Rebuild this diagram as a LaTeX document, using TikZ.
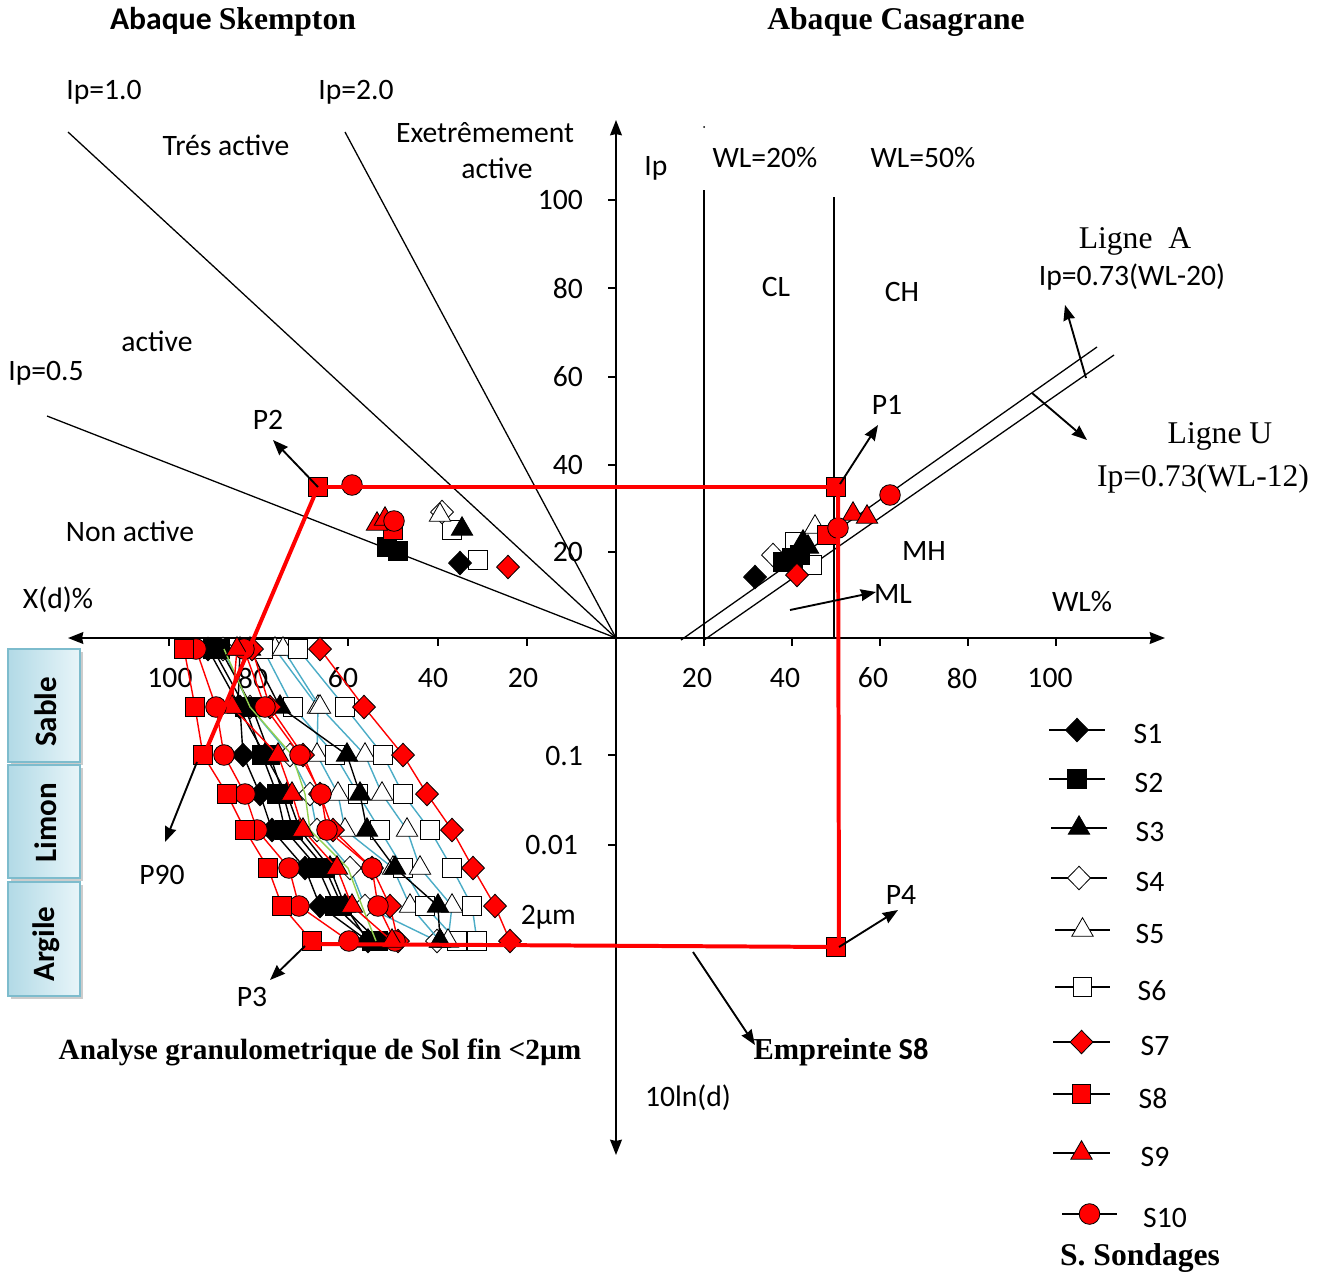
\documentclass[tikz,border=0pt]{standalone}
\usepackage{fontspec}
\setmainfont{Carlito}
\newfontfamily\tnr{Liberation Serif}
\usetikzlibrary{arrows.meta, plotmarks}
\tikzset{>={Stealth[length=13pt, width=10pt, inset=1pt]}}
\definecolor{bleu}{RGB}{75,172,198}
\definecolor{vert}{RGB}{146,208,80}
\definecolor{boxA}{RGB}{178,218,230}
\definecolor{boxB}{RGB}{232,245,249}
\definecolor{boxC}{RGB}{125,188,205}
\tikzset{
  dia/.style={mark=diamond*, mark size=10pt, mark options={xscale=1.3, solid, line width=0.7pt, draw=black, fill=#1}},
  sqr/.style={mark=square*, mark size=8pt, mark options={solid, line width=0.7pt, draw=black, fill=#1}},
  tri/.style={mark=triangle*, mark size=10.5pt, mark options={solid, line width=0.7pt, draw=black, fill=#1}},
  cir/.style={mark=*, mark size=8.8pt, mark options={solid, line width=0.7pt, draw=black, fill=#1}},
  serie/.style={#1, line width=1.2pt},
  fleche/.style={->, line width=1.6pt},
  rouge/.style={red, line width=3.4pt},
  boite/.style={draw=boxC, line width=1.5pt, left color=boxA, right color=boxB}
}
\newcommand{\legende}[6]{% x gauche, x droite, y, marque, texte, x texte
  \draw[line width=1.2pt] (#1,#3) -- (#2,#3);
  \path plot[only marks, #4] coordinates {({(#1+#2)/2},#3)};
  \node (leg#5) at (#6,#3+4) {#5};}

\begin{document}
\begin{tikzpicture}[x=0.03cm, y=-0.03cm, font=\fontsize{25.3}{29}\selectfont]
\useasboundingbox (0,0) rectangle (1323,1278);

% titres
\node (tSk) at (233,22) {\fontsize{27}{30}\selectfont\bfseries Abaque {\tnr Skempton}};
\node (tCa) at (896,22) {\fontsize{27}{30}\selectfont\tnr\bfseries Abaque Casagrane};

% axes
\coordinate (O) at (616,638);
\coordinate (xg) at (68,638);
\coordinate (xd) at (1165,638);
\coordinate (yh) at (616,120);
\coordinate (yb) at (616,1155);
\draw[line width=1.8pt, <->] (xg) -- (xd);
\draw[line width=1.8pt, <->] (yh) -- (yb);
\foreach \x in {169,259,348,438,527,704,792,880,968,1056}
  \draw[line width=1.5pt] (\x,638) -- (\x,646);
\foreach \y in {200,288,377,465,552,755,845}
  \draw[line width=1.5pt] (608,\y) -- (616,\y);
\foreach \t/\x in {100/170,80/253,60/343,40/433,20/523,20/697,40/785,60/873,80/962,100/1050}
  \node at (\x,678) {\t};
\foreach \t/\y in {100/200,80/288,60/377,40/465,20/552,0.1/756}
  \node[anchor=east] at (587,\y) {\t};
\node[anchor=east] (t001) at (582,845) {0.01};
\node[anchor=east] (t2) at (580,917) {2µm};
\node (xdl) at (58,600) {X(d)\%};
\node (wll) at (1082,602) {WL\%};
\node (ipl) at (656,168) {Ip};
\node (lnd) at (688,1098) {10ln(d)};

% abaque de Skempton
\draw[line width=1.1pt] (O) -- (68,132);
\draw[line width=1.1pt] (O) -- (345,132);
\draw[line width=1.1pt] (O) -- (47,416);
\node (ip1) at (104,92) {Ip=1.0};
\node (ip2) at (356,92) {Ip=2.0};
\node (ip05) at (46,373) {Ip=0.5};
\node (tres) at (226,145) {Trés active};
\node (ext) at (485,133) {Exetrêmement};
\node (ext2) at (497,168) {active};
\node (act) at (157,341) {active};
\node (non) at (130,531) {Non active};

% abaque de Casagrande
\fill (704,127) circle (1);
\draw[line width=1.3pt] (704,190) -- (704,638);
\draw[line width=1.3pt] (834,197) -- (834,638);
\draw[line width=1.1pt] (681,640) -- (1097,347);
\draw[line width=1.1pt] (704,640) -- (1114,355);
\node (wl20) at (765,158) {WL=20\%};
\node (wl50) at (923,158) {WL=50\%};
\node (cl) at (776,287) {CL};
\node (ch) at (902,292) {CH};
\node (mh) at (924,551) {MH};
\node (ml) at (893,594) {ML};
\node (lA) at (1135,241) {\fontsize{27}{30}\selectfont\tnr Ligne~~A};
\node (eqA) at (1132,277) {Ip=0.73(WL-20)};
\node (lU) at (1220,436) {\fontsize{27}{30}\selectfont\tnr Ligne U};
\node (eqU) at (1203,479) {\fontsize{27}{30}\selectfont\tnr Ip=0.73(WL-12)};

% granulometrie
\draw[serie=bleu] plot[dia=white] coordinates {(223,649) (250,707) (290,755) (310,794) (317,830) (350,868) (365,906) (437,941)};
\draw[serie=bleu] plot[tri=white] coordinates {(275,649) (318,707) (317,755) (338,794) (345,830) (393,868) (410,906) (440,941)};
\draw[serie=bleu] plot[sqr=white] coordinates {(263,649) (293,707) (335,755) (358,794) (380,830) (403,868) (425,906) (457,941)};
\draw[serie=bleu] plot[tri=white] coordinates {(283,649) (320,707) (365,755) (382,794) (407,830) (420,868) (452,906) (448,941)};
\draw[serie=bleu] plot[sqr=white] coordinates {(298,649) (345,707) (383,755) (403,794) (430,830) (452,868) (472,906) (477,941)};
\draw[serie=black] plot[tri=black] coordinates {(250,649) (280,707) (347,755) (360,794) (367,830) (395,868) (438,906) (440,941)};
\draw[serie=black] plot[dia=black] coordinates {(208,649) (240,707) (243,755) (260,794) (272,830) (305,868) (320,906) (368,941)};
\draw[serie=black] plot[sqr=black] coordinates {(213,649) (245,707) (262,755) (277,794) (285,830) (318,868) (335,906) (372,941)};
\draw[serie=black] plot[sqr=black] coordinates {(220,649) (252,707) (270,755) (283,794) (293,830) (325,868) (342,906) (378,941)};
\draw[serie=black] plot[tri=black] coordinates {(240,649) (238,707) (265,755) (287,794) (300,830) (330,868) (345,906) (368,941)};
\draw[serie=vert] plot coordinates {(224,649) (250,707) (292,755) (305,794) (310,830) (348,868) (362,906) (376,941)};
\draw[serie=red] plot[dia=red] coordinates {(320,649) (364,707) (403,755) (427,794) (452,830) (473,868) (495,906) (510,941)};
\draw[serie=red] plot[dia=red] coordinates {(252,649) (270,707) (303,755) (320,794) (333,830) (372,868) (390,906) (398,941)};
\draw[serie=red] plot[cir=red] coordinates {(244,649) (265,707) (300,755) (321,794) (327,830) (372,868) (378,906) (395,941)};
\draw[serie=red] plot[tri=red] coordinates {(237,649) (232,707) (278,755) (292,794) (303,830) (337,868) (352,906) (392,941)};
\draw[serie=red] plot[cir=red] coordinates {(196,649) (216,707) (224,755) (245,794) (257,830) (289,868) (299,906) (349,941)};
\draw[serie=red] plot[sqr=red] coordinates {(184,649) (195,707) (203,755) (227,794) (245,830) (268,868) (282,906) (312,941)};

% points Skempton
\path plot[only marks, sqr=white] coordinates {(452,530) (478,560)};
\path plot[only marks, dia=white] coordinates {(442,512)};
\path plot[only marks, tri=white] coordinates {(440,515)};
\path plot[only marks, tri=black] coordinates {(462,529)};
\path plot[only marks, dia=black] coordinates {(460,563)};
\path plot[only marks, sqr=black] coordinates {(387,547) (398,551)};
\path plot[only marks, dia=red] coordinates {(508,567)};
\path plot[only marks, sqr=red] coordinates {(318,487) (393,530)};
\path plot[only marks, tri=red] coordinates {(377,524) (385,519)};
\path plot[only marks, cir=red] coordinates {(352,485) (394,521)};

% points Casagrande
\path plot[only marks, dia=white] coordinates {(773,555)};
\path plot[only marks, sqr=white] coordinates {(795,542) (812,565)};
\path plot[only marks, tri=white] coordinates {(815,527)};
\path plot[only marks, dia=black] coordinates {(755,577)};
\path plot[only marks, sqr=black] coordinates {(783,562) (792,558) (800,555)};
\path plot[only marks, tri=black] coordinates {(803,542) (808,547)};
\path plot[only marks, dia=red] coordinates {(797,575)};
\path plot[only marks, sqr=red] coordinates {(836,487) (827,535) (836,947)};
\path plot[only marks, tri=red] coordinates {(853,514) (867,517)};
\path plot[only marks, cir=red] coordinates {(890,495) (838,528)};

% empreinte S8
\coordinate (sP2) at (318,487);
\coordinate (sP1) at (838,487);
\coordinate (sP90) at (204,755);
\coordinate (sP4) at (839,947);
\coordinate (sP3) at (312,944);
\draw[rouge] (sP2) -- (sP1);
\draw[rouge] (sP2) -- (sP90);
\draw[rouge] (sP1) -- (sP4);
\draw[rouge] (sP3) -- (sP4);

% fleches
\coordinate (aP2) at (273,440);
\coordinate (aP1a) at (840,484);
\coordinate (aP1) at (878,425);
\coordinate (aP90a) at (197,762);
\coordinate (aP90) at (165,842);
\coordinate (aP3a) at (305,946);
\coordinate (aP3) at (270,980);
\coordinate (aP4) at (898,910);
\coordinate (aEa) at (693,952);
\coordinate (aE) at (755,1045);
\coordinate (aAa) at (1086,378);
\coordinate (aA) at (1065,305);
\coordinate (aUa) at (1032,393);
\coordinate (aU) at (1087,440);
\coordinate (aMLa) at (790,610);
\coordinate (aML) at (876,592);
\draw[fleche] (sP2) -- (aP2);
\draw[fleche] (aP1a) -- (aP1);
\draw[fleche] (aP90a) -- (aP90);
\draw[fleche] (aP3a) -- (aP3);
\draw[fleche] (sP4) -- (aP4);
\draw[fleche] (aEa) -- (aE);
\draw[fleche] (aAa) -- (aA);
\draw[fleche] (aUa) -- (aU);
\draw[fleche] (aMLa) -- (aML);
\node (P2) at (268,420) {P2};
\node (P1) at (887,405) {P1};
\node (P90) at (162,875) {P90};
\node (P3) at (252,997) {P3};
\node (P4) at (901,895) {P4};

% classes
\fill[gray!40] (11,652) rectangle (83,765);
\fill[gray!40] (11,768) rectangle (83,881);
\fill[gray!40] (11,885) rectangle (83,999);
\draw[boite] (8,649) rectangle (80,762);
\draw[boite] (8,765) rectangle (80,878);
\draw[boite] (8,882) rectangle (80,996);
\node[rotate=90] (sab) at (46,712) {\fontsize{26.5}{30}\selectfont\bfseries Sable};
\node[rotate=90] (lim) at (46,823) {\fontsize{26.5}{30}\selectfont\bfseries Limon};
\node[rotate=90] (arg) at (46,944) {\fontsize{26.5}{30}\selectfont\bfseries Argile};

% textes du bas
\node (gran) at (320,1052) {\fontsize{25}{29}\selectfont\tnr\bfseries Analyse granulometrique de Sol fin <2µm};
\node (empr) at (841,1052) {\fontsize{26}{29}\selectfont\bfseries{\tnr Empreinte} S8};

% legende
\legende{1049}{1105}{730}{dia=black}{S1}{1148}
\legende{1049}{1105}{779}{sqr=black}{S2}{1149}
\legende{1051}{1107}{828}{tri=black}{S3}{1150}
\legende{1051}{1107}{878}{dia=white}{S4}{1150}
\legende{1055}{1110}{930}{tri=white}{S5}{1150}
\legende{1055}{1110}{987}{sqr=white}{S6}{1152}
\legende{1053}{1110}{1042}{dia=red}{S7}{1155}
\legende{1053}{1110}{1094}{sqr=red}{S8}{1153}
\legende{1053}{1110}{1153}{tri=red}{S9}{1155}
\legende{1062}{1117}{1214}{cir=red}{S10}{1165}
\node (sond) at (1140,1258) {\fontsize{27}{30}\selectfont\tnr\bfseries S. Sondages};
\end{tikzpicture}
\end{document}
